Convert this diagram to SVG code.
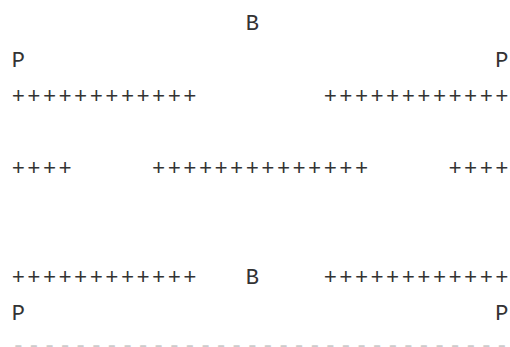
<svg xmlns="http://www.w3.org/2000/svg" width="510" height="347" viewBox="0 0 510 347">
<style>
.t{font-family:"Liberation Mono","Courier New",monospace;font-size:22px;letter-spacing:2.4px;fill:#333;white-space:pre}
.d{font-family:"Liberation Mono","Courier New",monospace;font-size:22px;letter-spacing:2.4px;fill:#ccc;white-space:pre}
</style>
<rect width="510" height="347" fill="#fff"/>
<g id="labels-top">
<text class="t" x="245.7" y="29.5">B</text>
<text class="t" x="11.7" y="66.5">P</text>
<text class="t" x="495.3" y="66.5">P</text>
</g>
<g id="row-top">
<text class="t" x="11.7" y="103">++++++++++++</text>
<text class="t" x="323.7" y="103">++++++++++++</text>
</g>
<g id="row-middle">
<text class="t" x="11.7" y="175">++++</text>
<text class="t" x="152.1" y="175">++++++++++++++</text>
<text class="t" x="448.5" y="175">++++</text>
</g>
<g id="row-bottom">
<text class="t" x="11.7" y="283.5">++++++++++++</text>
<text class="t" x="245.7" y="283.5">B</text>
<text class="t" x="323.7" y="283.5">++++++++++++</text>
</g>
<g id="labels-bottom">
<text class="t" x="11.7" y="319.5">P</text>
<text class="t" x="495.3" y="319.5">P</text>
</g>
<g id="rule">
<text class="d" x="11.7" y="352">--------------------------------</text>
</g>
</svg>
